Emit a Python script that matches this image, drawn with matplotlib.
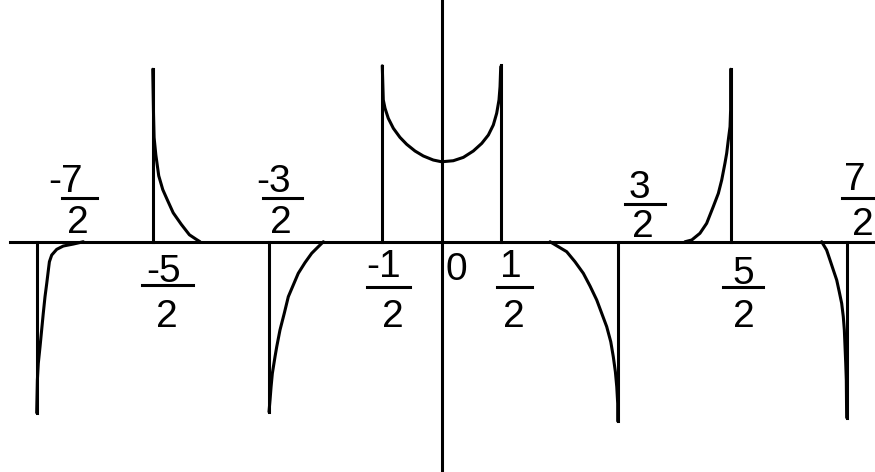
import matplotlib.pyplot as plt

# curve branches (x in units, y in arbitrary units)
u_x = [-0.513, -0.504, -0.489, -0.461, -0.417, -0.360, -0.302, -0.230, -0.158, -0.072, 0.0,
       0.101, 0.188, 0.274, 0.347, 0.404, 0.447, 0.476, 0.496, 0.505, 0.511]
u_y = [1.52, 1.225, 1.153, 1.067, 0.980, 0.902, 0.842, 0.784, 0.741, 0.706, 0.691,
       0.700, 0.729, 0.784, 0.850, 0.922, 1.009, 1.110, 1.225, 1.340, 1.513]

r1_x = [0.937, 1.009, 1.081, 1.153, 1.225, 1.283, 1.341, 1.384, 1.427, 1.462, 1.484, 1.502, 1.514, 1.522, 1.522]
r1_y = [0.0, -0.043, -0.086, -0.173, -0.273, -0.383, -0.504, -0.619, -0.734, -0.864, -0.994, -1.124, -1.254, -1.397, -1.55]

r2_x = [2.104, 2.162, 2.233, 2.291, 2.348, 2.392, 2.421, 2.449, 2.464, 2.478, 2.493, 2.498, 2.498]
r2_y = [0.0, 0.015, 0.073, 0.159, 0.303, 0.418, 0.533, 0.678, 0.764, 0.879, 0.994, 1.138, 1.49]

r3_x = [3.285, 3.328, 3.357, 3.386, 3.415, 3.437, 3.458, 3.472, 3.481, 3.487, 3.493, 3.498, 3.501]
r3_y = [0.0, -0.072, -0.158, -0.245, -0.331, -0.432, -0.533, -0.648, -0.763, -0.907, -1.051, -1.195, -1.52]

l1_x = [-1.022, -1.080, -1.123, -1.181, -1.239, -1.282, -1.325, -1.360, -1.397, -1.425, -1.440, -1.463, -1.474, -1.483, -1.492]
l1_y = [0.0, -0.057, -0.100, -0.181, -0.273, -0.374, -0.475, -0.619, -0.763, -0.907, -0.994, -1.138, -1.254, -1.368, -1.47]

l2_x = [-2.088, -2.12, -2.18, -2.25, -2.32, -2.37, -2.41, -2.445, -2.47, -2.485, -2.49, -2.497]
l2_y = [0.0, 0.02, 0.06, 0.15, 0.25, 0.36, 0.45, 0.57, 0.75, 0.90, 1.10, 1.49]

l3_x = [-3.097, -3.183, -3.270, -3.327, -3.370, -3.390, -3.399, -3.413, -3.428, -3.443, -3.457, -3.471, -3.486, -3.494, -3.500]
l3_y = [0.0, -0.020, -0.037, -0.066, -0.115, -0.173, -0.245, -0.360, -0.475, -0.619, -0.763, -0.907, -1.051, -1.195, -1.478]

# vertical lines at the poles
pole_x = [-3.500, -2.497, -1.492, -0.513, 0.511, 1.522, 2.498, 3.501]
pole_end = [-1.48, 1.49, -1.47, 1.52, 1.53, -1.55, 1.49, -1.52]

# fraction labels: numerator, denominator
lab_num = ['-7', '-5', '-3', '-1', '1', '3', '5', '7']
lab_den = ['2', '2', '2', '2', '2', '2', '2', '2']

# layout of the labels: (num x, num baseline, bar x0, bar x1, bar y, den x, den baseline)
lab_pos = [
    (-3.246, 0.430, -3.281, -2.978, 0.378, -3.147, 0.075),
    (-2.407, -0.348, -2.590, -2.149, -0.374, -2.378, -0.737),
    (-1.449, 0.430, -1.544, -1.207, 0.378, -1.388, 0.075),
    (-0.506, -0.305, -0.644, -0.273, -0.389, -0.424, -0.737),
    (0.600, -0.305, 0.479, 0.781, -0.389, 0.626, -0.737),
    (1.706, 0.378, 1.585, 1.932, 0.326, 1.736, 0.043),
    (2.605, -0.367, 2.432, 2.778, -0.389, 2.609, -0.737),
    (3.573, 0.447, 3.461, 3.746, 0.378, 3.638, 0.058),
]

fig = plt.figure(figsize=(8.75, 4.72), dpi=100)
ax = fig.add_axes([0, 0, 1, 1])
ax.set_xlim(-3.817, 3.746)
ax.set_ylim(-1.990, 2.089)
ax.axis('off')

lw = 2.2
ax.plot([-3.73, 3.746], [0, 0], color='black', lw=lw)
ax.plot([0, 0], [-1.97, 2.089], color='black', lw=lw)

for px, pe in zip(pole_x, pole_end):
    ax.plot([px, px], [0, pe], color='black', lw=lw)

for xs, ys in [(u_x, u_y), (r1_x, r1_y), (r2_x, r2_y), (r3_x, r3_y),
               (l1_x, l1_y), (l2_x, l2_y), (l3_x, l3_y)]:
    ax.plot(xs, ys, color='black', lw=lw, solid_capstyle='round', solid_joinstyle='round')

fs = 28
font = 'Liberation Sans'
for num, den, p in zip(lab_num, lab_den, lab_pos):
    ax.text(p[0], p[1], num, ha='center', va='baseline', fontsize=fs, family=font)
    ax.plot([p[2], p[3]], [p[4], p[4]], color='black', lw=lw)
    ax.text(p[5], p[6], den, ha='center', va='baseline', fontsize=fs, family=font)

ax.text(0.124, -0.331, '0', ha='center', va='baseline', fontsize=fs, family=font)

fig.savefig('out.png', dpi=100)
